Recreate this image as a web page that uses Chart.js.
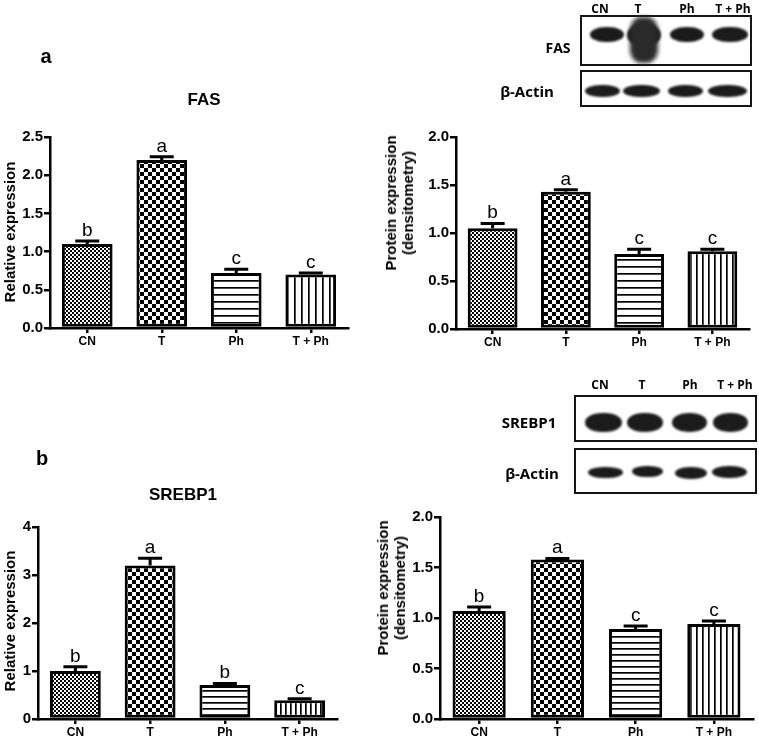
<!DOCTYPE html>
<html>
<head>
<meta charset="utf-8">
<script src="https://cdn.jsdelivr.net/npm/chart.js@4.4.0/dist/chart.umd.min.js"></script>
<style>
html, body { margin: 0; padding: 0; background: #fff; }
#page { position: relative; width: 759px; height: 740px; overflow: hidden; font-family: "Liberation Sans", Arial, sans-serif; color: #000; }
#page canvas { position: absolute; left: 0; top: 0; }
.lbl { position: absolute; transform: translate(-50%, -50%); white-space: nowrap; font-weight: bold; }
.ytitle { position: absolute; transform: translate(-50%, -50%) rotate(-90deg); white-space: nowrap; text-align: center; font-weight: bold; font-size: 15px; line-height: 17px; }
.blot { position: absolute; border: 2px solid #151515; box-sizing: border-box; background: #fff; }
.band { position: absolute; background: #1b1b1b; border-radius: 45% / 50%; filter: blur(1.2px); }
.lane { font-family: "Open Sans", sans-serif; font-size: 12px; }
.row { font-family: "Open Sans", sans-serif; font-size: 14px; }
</style>
</head>
<body>
<div id="page">
  <canvas id="fasMrnaChart"></canvas>
  <canvas id="fasProtChart"></canvas>
  <canvas id="srebpMrnaChart"></canvas>
  <canvas id="srebpProtChart"></canvas>

  <div class="lbl" style="left:46px;top:56px;font-size:20px;">a</div>
  <div class="lbl" style="left:42px;top:458px;font-size:20px;">b</div>
  <div class="lbl" style="left:204px;top:100px;font-size:17px;">FAS</div>
  <div class="lbl" style="left:183px;top:495px;font-size:17px;">SREBP1</div>

  <div class="ytitle" style="left:9px;top:232px;">Relative expression</div>
  <div class="ytitle" style="left:399px;top:203px;">Protein expression<br>(densitometry)</div>
  <div class="ytitle" style="left:9px;top:621px;">Relative expression</div>
  <div class="ytitle" style="left:391px;top:588px;">Protein expression<br>(densitometry)</div>

  <!-- FAS western blot -->
  <div class="lbl lane" style="left:600px;top:8px;">CN</div>
  <div class="lbl lane" style="left:638px;top:8px;">T</div>
  <div class="lbl lane" style="left:687px;top:8px;">Ph</div>
  <div class="lbl lane" style="left:733px;top:8px;">T + Ph</div>
  <div class="lbl row" style="left:558px;top:47px;">FAS</div>
  <div class="lbl row" style="left:527px;top:91px;font-size:15px;">β-Actin</div>
  <div class="blot" style="left:580px;top:15px;width:172px;height:51px;"></div>
  <div class="blot" style="left:580px;top:70px;width:172px;height:37px;"></div>
  <div class="band" style="left:590px;top:27px;width:34px;height:15px;"></div>
  <div class="band" style="left:627px;top:24px;width:34px;height:22px;"></div>
  <div class="band" style="left:630px;top:17px;width:28px;height:46px;border-radius:40% / 30%;filter:blur(2px);background:#2a2a2a;"></div>
  <div class="band" style="left:670px;top:27px;width:34px;height:15px;"></div>
  <div class="band" style="left:712px;top:27px;width:36px;height:15px;"></div>
  <div class="band" style="left:585px;top:85px;width:35px;height:12px;"></div>
  <div class="band" style="left:623px;top:85px;width:37px;height:12px;"></div>
  <div class="band" style="left:668px;top:85px;width:35px;height:12px;"></div>
  <div class="band" style="left:708px;top:85px;width:39px;height:12px;"></div>

  <!-- SREBP1 western blot -->
  <div class="lbl lane" style="left:600px;top:384px;">CN</div>
  <div class="lbl lane" style="left:642px;top:384px;">T</div>
  <div class="lbl lane" style="left:690px;top:384px;">Ph</div>
  <div class="lbl lane" style="left:735px;top:384px;">T + Ph</div>
  <div class="lbl row" style="left:529px;top:422px;font-size:15px;">SREBP1</div>
  <div class="lbl row" style="left:532px;top:473px;font-size:15px;">β-Actin</div>
  <div class="blot" style="left:574px;top:395px;width:183px;height:47px;"></div>
  <div class="blot" style="left:574px;top:448px;width:183px;height:46px;"></div>
  <div class="band" style="left:585px;top:413px;width:37px;height:19px;"></div>
  <div class="band" style="left:627px;top:413px;width:36px;height:19px;"></div>
  <div class="band" style="left:672px;top:413px;width:35px;height:19px;"></div>
  <div class="band" style="left:713px;top:413px;width:35px;height:19px;"></div>
  <div class="band" style="left:588px;top:467px;width:35px;height:11px;"></div>
  <div class="band" style="left:632px;top:466px;width:31px;height:11px;"></div>
  <div class="band" style="left:675px;top:467px;width:32px;height:12px;"></div>
  <div class="band" style="left:712px;top:466px;width:35px;height:12px;"></div>
</div>

<script>
// groups and values (mean, error = SEM above the bar)
const groups = ["CN", "T", "Ph", "T + Ph"];

const fasMrna = [1.10, 2.20, 0.72, 0.70];
const fasMrnaErr = [0.04, 0.04, 0.05, 0.02];
const fasMrnaSig = ["b", "a", "c", "c"];

const fasProt = [1.05, 1.43, 0.78, 0.81];
const fasProtErr = [0.05, 0.02, 0.05, 0.02];
const fasProtSig = ["b", "a", "c", "c"];

const srebpMrna = [1.00, 3.20, 0.71, 0.39];
const srebpMrnaErr = [0.09, 0.15, 0.03, 0.03];
const srebpMrnaSig = ["b", "a", "b", "c"];

const srebpProt = [1.07, 1.58, 0.89, 0.94];
const srebpProtErr = [0.04, 0.01, 0.03, 0.03];
const srebpProtSig = ["b", "a", "c", "c"];

const W = 759, H = 740;
const FONT = "'Liberation Sans', Arial, sans-serif";

function makePattern(w, h, draw)
{
  const c = document.createElement("canvas");
  c.width = w;
  c.height = h;
  const g = c.getContext("2d");
  g.fillStyle = "#fff";
  g.fillRect(0, 0, w, h);
  g.fillStyle = "#000";
  draw(g, w, h);
  return g.createPattern(c, "repeat");
}

function fills(hGap, vGap)
{
  const fine = makePattern(4, 4, g => { g.fillRect(0, 0, 2, 2); g.fillRect(2, 2, 2, 2); });
  const coarse = makePattern(8, 8, g => { g.fillRect(0, 0, 4, 4); g.fillRect(4, 4, 4, 4); });
  const hLines = makePattern(4, hGap, (g, w) => g.fillRect(0, 0, w, 1.7));
  const vLines = makePattern(vGap, 4, (g, w, h) => g.fillRect(0, 0, 1.7, h));
  return [fine, coarse, hLines, vLines];
}

const errorBars = {
  id: "errorBars",
  afterDatasetsDraw(chart, args, opts)
  {
    const ctx = chart.ctx;
    const y = chart.scales.y;
    const values = chart.data.datasets[0].data;
    const meta = chart.getDatasetMeta(0);
    ctx.save();
    ctx.strokeStyle = "#000";
    ctx.fillStyle = "#000";
    ctx.lineWidth = 3;
    ctx.font = "19px " + FONT;
    ctx.textAlign = "center";
    ctx.textBaseline = "alphabetic";
    meta.data.forEach((bar, i) =>
    {
      const top = y.getPixelForValue(values[i] + opts.errors[i]);
      ctx.beginPath();
      ctx.moveTo(bar.x, bar.y);
      ctx.lineTo(bar.x, top);
      ctx.moveTo(bar.x - 12, top);
      ctx.lineTo(bar.x + 12, top);
      ctx.stroke();
      ctx.fillText(opts.letters[i], bar.x, top - 5);
    });
    ctx.restore();
  }
};

function createChart(id, cfg)
{
  const canvas = document.getElementById(id);
  canvas.width = W;
  canvas.height = H;
  const yW = 50, xH = 24;
  const a = cfg.area;
  return new Chart(canvas, {
    type: "bar",
    data: {
      labels: groups,
      datasets: [{
        data: cfg.values,
        backgroundColor: fills(cfg.hGap, cfg.vGap),
        borderColor: "#000",
        borderWidth: 3,
        borderSkipped: false,
        barPercentage: 0.68,
        categoryPercentage: 1,
      }],
    },
    options: {
      responsive: false,
      animation: false,
      devicePixelRatio: 1,
      layout: {
        padding: {left: a.left - yW, right: W - a.right, top: a.top, bottom: H - a.bottom - xH},
      },
      plugins: {
        legend: {display: false},
        tooltip: {enabled: false},
        errorBars: {errors: cfg.errors, letters: cfg.letters},
      },
      scales: {
        x: {
          grid: {display: true, drawOnChartArea: false, offset: false, color: "#000", lineWidth: 2.5, tickLength: 5},
          border: {display: true, color: "#000", width: 2.5},
          ticks: {color: "#000", padding: 1, font: {family: FONT, size: 12, weight: "bold"}},
          afterFit(s) { s.height = xH; },
        },
        y: {
          min: 0,
          max: cfg.max,
          grid: {display: true, drawOnChartArea: false, color: "#000", lineWidth: 2.5, tickLength: 6},
          border: {display: true, color: "#000", width: 2.5},
          ticks: {
            stepSize: cfg.step,
            color: "#000",
            padding: 1,
            font: {family: FONT, size: 15, weight: "bold"},
            callback: v => cfg.step < 1 ? v.toFixed(1) : String(v),
          },
          afterFit(s) { s.width = yW; },
        },
      },
    },
    plugins: [errorBars],
  });
}

createChart("fasMrnaChart", {
  values: fasMrna, errors: fasMrnaErr, letters: fasMrnaSig,
  max: 2.5, step: 0.5, hGap: 7, vGap: 7,
  area: {left: 50, right: 348, top: 137, bottom: 328},
});
createChart("fasProtChart", {
  values: fasProt, errors: fasProtErr, letters: fasProtSig,
  max: 2.0, step: 0.5, hGap: 7, vGap: 6,
  area: {left: 456, right: 749, top: 137, bottom: 329},
});
createChart("srebpMrnaChart", {
  values: srebpMrna, errors: srebpMrnaErr, letters: srebpMrnaSig,
  max: 4, step: 1, hGap: 6, vGap: 5,
  area: {left: 38, right: 337, top: 527, bottom: 719},
});
createChart("srebpProtChart", {
  values: srebpProt, errors: srebpProtErr, letters: srebpProtSig,
  max: 2.0, step: 0.5, hGap: 6, vGap: 6,
  area: {left: 440, right: 753, top: 517, bottom: 719},
});
</script>
</body>
</html>
